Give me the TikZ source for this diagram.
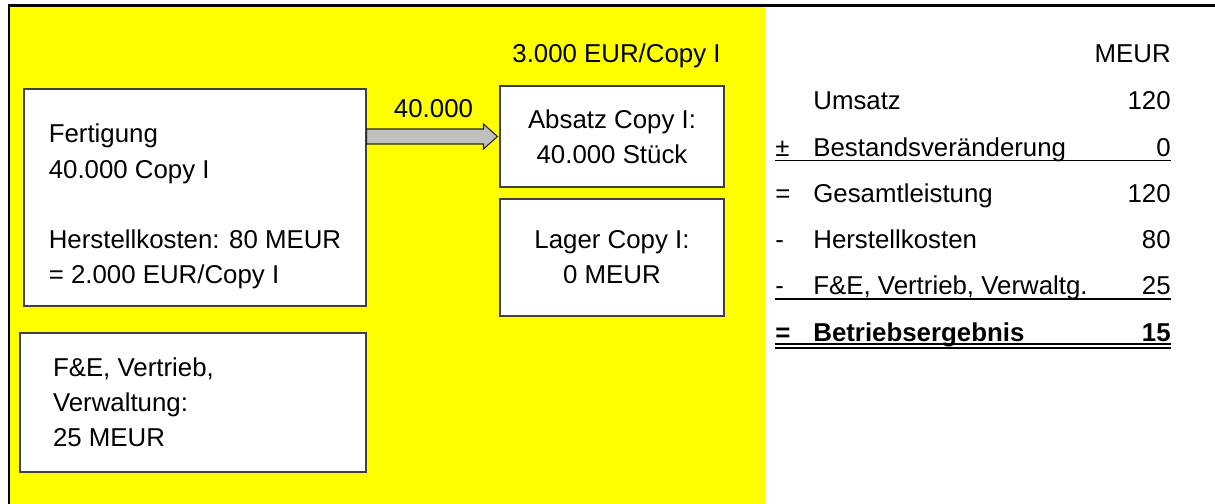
\documentclass[tikz,border=0pt]{standalone}
\usepackage{fontspec}
\setmainfont{Liberation Sans}
\usetikzlibrary{calc}
\definecolor{bgyellow}{RGB}{255,255,0}
\definecolor{arrowgray}{RGB}{192,192,192}
\newcommand{\txt}{\fontsize{14.7}{20}\selectfont}
\newcommand{\natspace}{\spaceskip=0pt\xspaceskip=0pt\relax}

\begin{document}
\begin{tikzpicture}[
  every node/.style={font=\txt},
  box/.style={draw=black!75, line width=0.6pt, fill=white},
  cell/.style={inner sep=0pt},
  rule/.style={line width=0.9pt},
  flowarrow/.style={draw=black!85, line width=0.6pt, fill=arrowgray}
]
  \useasboundingbox (0,0) rectangle (24.3,10.08);
  \fill[bgyellow] (0.2,0) rectangle (15.3,9.94);
  \draw[line width=1.7pt] (0.18,0) -- (0.18,9.96) -- (24.3,9.96);

  \node at (3.9,6.13) [box, minimum width=6.84cm, minimum height=4.34cm, align=left] (fert)
    {\rule{0pt}{21pt}Fertigung\\40.000 Copy I\\[20pt]Herstellkosten: 80 MEUR\\= 2.000 EUR/Copy I};
  \node at (3.86,2.03) [box, minimum width=6.92cm, minimum height=2.78cm, text width=5.6cm, inner xsep=0.66cm, align=left] (fue)
    {\natspace F\&E, Vertrieb,\\Verwaltung:\\25 MEUR};

  \node at (12.24,7.35) [box, minimum width=4.48cm, minimum height=2.02cm, align=center] (absatz) {Absatz Copy I:\\40.000 Stück};
  \node at (12.24,4.93) [box, minimum width=4.48cm, minimum height=2.34cm, align=center] (lager) {Lager Copy I:\\0 MEUR};

  \node at (12.33,8.82) [cell, anchor=base] (price) {3.000 EUR/Copy I};
  \node at (8.67,7.72) [cell, anchor=base] (qty) {40.000};

  \filldraw[flowarrow] ($(fert.east |- absatz.west)+(0,0.15)$) -- ($(absatz.west)+(-0.32,0.15)$)
    -- ($(absatz.west)+(-0.32,0.25)$) -- ($(absatz.west)+(-0.04,0)$) -- ($(absatz.west)+(-0.32,-0.25)$)
    -- ($(absatz.west)+(-0.32,-0.15)$) -- ($(fert.east |- absatz.west)+(0,-0.15)$) -- cycle;

  % Ergebnisrechnung
  \node at (23.42,8.82) [cell, anchor=base east] (v0) {MEUR};

  \node at (16.26,7.88) [cell, anchor=base west] (l1) {Umsatz};
  \node at (23.42,7.88) [cell, anchor=base east] (v1) {120};

  \node at (15.5,6.95) [cell, anchor=base west] (s2) {±};
  \node at (16.26,6.95) [cell, anchor=base west] (l2) {Bestandsveränderung};
  \node at (23.42,6.95) [cell, anchor=base east] (v2) {0};

  \node at (15.5,6.03) [cell, anchor=base west] (s3) {=};
  \node at (16.26,6.03) [cell, anchor=base west] (l3) {Gesamtleistung};
  \node at (23.42,6.03) [cell, anchor=base east] (v3) {120};

  \node at (15.5,5.11) [cell, anchor=base west] (s4) {-};
  \node at (16.26,5.11) [cell, anchor=base west] (l4) {Herstellkosten};
  \node at (23.42,5.11) [cell, anchor=base east] (v4) {80};

  \node at (15.5,4.18) [cell, anchor=base west] (s5) {-};
  \node at (16.26,4.18) [cell, anchor=base west] (l5) {F\&E, Vertrieb, Verwaltg.};
  \node at (23.42,4.18) [cell, anchor=base east] (v5) {25};

  \node at (15.5,3.24) [cell, anchor=base west, font=\txt\bfseries] (s6) {=};
  \node at (16.26,3.24) [cell, anchor=base west, font=\txt\bfseries] (l6) {Betriebsergebnis};
  \node at (23.42,3.24) [cell, anchor=base east, font=\txt\bfseries] (v6) {15};

  \draw[rule] ($(s2.base west)+(0,-0.08)$) -- ($(v2.base east)+(0,-0.08)$);
  \draw[rule] ($(s5.base west)+(0,-0.08)$) -- ($(v5.base east)+(0,-0.08)$);
  \draw[rule] ($(s6.base west)+(0,-0.04)$) -- ($(v6.base east)+(0,-0.04)$);
  \draw[rule] ($(s6.base west)+(0,-0.12)$) -- ($(v6.base east)+(0,-0.12)$);
\end{tikzpicture}
\end{document}
